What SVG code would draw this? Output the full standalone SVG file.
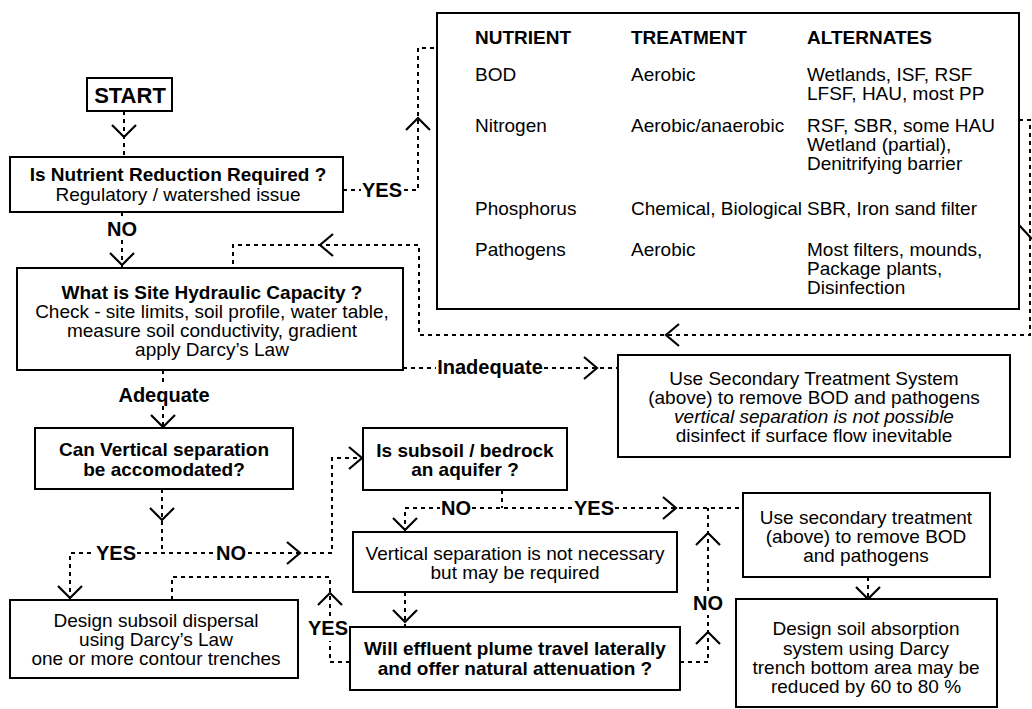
<svg xmlns="http://www.w3.org/2000/svg" width="1032" height="709" viewBox="0 0 1032 709">
<style>
.box{fill:#fff;stroke:#000;stroke-width:2}
.t{font-family:"Liberation Sans",Arial,sans-serif;font-size:19px;fill:#000;text-anchor:middle;dominant-baseline:central}
.b{font-weight:bold}
.i{font-style:italic}
.l{text-anchor:start}
.lab{font-size:20px;font-weight:bold}
.d{fill:none;stroke:#000;stroke-width:2;stroke-dasharray:4 4}
.a{fill:none;stroke:#000;stroke-width:2.2}
</style>
<rect width="1032" height="709" fill="#fff"/>
<g id="connectors">
  <!-- START -> Nutrient -->
  <path class="d" d="M124,111 V157"/>
  <path class="a" d="M112,125 L124,137 L136,125"/>
  <!-- Nutrient NO -> Hydraulic -->
  <path class="d" d="M122,212 V220 M122,240 V268"/>
  <path class="a" d="M110,253 L122,265 L134,253"/>
  <text class="t lab" x="122" y="229">NO</text>
  <!-- Nutrient YES -> table -->
  <path class="d" d="M343,190 H361 M404,190 H418 V48 H437"/>
  <path class="a" d="M406,130 L418,118 L430,130"/>
  <text class="t lab" x="382" y="190">YES</text>
  <!-- table return -> hydraulic -->
  <path class="d" d="M1019,120 H1030 V335 H419 V245 H233 V268"/>
  <path class="a" d="M679,324 L666,335 L679,346"/>
  <path class="a" d="M333,234 L320,245 L333,256"/>
  <path class="a" d="M1019,225 L1032,239"/>
  <!-- Hydraulic Inadequate -> secondary -->
  <path class="d" d="M403,368 H436 M544,368 H618"/>
  <path class="a" d="M584,357 L597,368 L584,379"/>
  <text class="t lab" x="490" y="367">Inadequate</text>
  <!-- Hydraulic Adequate -> Can vertical -->
  <path class="d" d="M163,370 V385 M163,406 V428"/>
  <path class="a" d="M151,415 L163,427 L175,415"/>
  <text class="t lab" x="164" y="395">Adequate</text>
  <!-- Can vertical -> YES / NO -->
  <path class="d" d="M162,489 V553 M70,600 V553 H95 M137,553 H213 M248,553 H332 V458 H363"/>
  <path class="a" d="M150,508 L162,520 L174,508"/>
  <path class="a" d="M58,586 L70,598 L82,586"/>
  <path class="a" d="M287,542 L300,553 L287,564"/>
  <path class="a" d="M349,447 L362,458 L349,469"/>
  <text class="t lab" x="116" y="553">YES</text>
  <text class="t lab" x="231" y="553">NO</text>
  <!-- Will effluent YES -> design subsoil -->
  <path class="d" d="M350,662 H330 V641 M330,616 V577 H172 V600"/>
  <path class="a" d="M318,605 L330,593 L342,605"/>
  <text class="t lab" x="328" y="628">YES</text>
  <!-- Will effluent NO -> secondary treatment -->
  <path class="d" d="M680,662 H708 V615 M708,591 V508"/>
  <path class="a" d="M696,644 L708,632 L720,644"/>
  <path class="a" d="M696,545 L708,533 L720,545"/>
  <text class="t lab" x="708" y="603">NO</text>
  <!-- Aquifer -> NO / YES -->
  <path class="d" d="M502,490 V508 M405,532 V508 H440 M472,508 H573 M615,508 H743"/>
  <path class="a" d="M393,518 L405,530 L417,518"/>
  <path class="a" d="M663,497 L676,508 L663,519"/>
  <text class="t lab" x="456" y="508">NO</text>
  <text class="t lab" x="594" y="508">YES</text>
  <!-- Vertical sep -> Will effluent -->
  <path class="d" d="M405,592 V627"/>
  <path class="a" d="M393,610 L405,622 L417,610"/>
  <!-- secondary -> absorption -->
  <path class="d" d="M868,577 V599"/>
  <path class="a" d="M856,587 L868,599 L880,587"/>
</g>
<g id="start">
  <rect class="box" x="87" y="78" width="85" height="33"/>
  <text class="t b" x="130" y="95" style="font-size:22px">START</text>
</g>
<g id="nutrient">
  <rect class="box" x="10" y="157" width="333" height="55"/>
  <text class="t b" x="178" y="174">Is Nutrient Reduction Required ?</text>
  <text class="t" x="178" y="194">Regulatory / watershed issue</text>
</g>
<g id="table">
  <rect class="box" x="437" y="13" width="582" height="296"/>
  <text class="t l b" x="475" y="37">NUTRIENT</text>
  <text class="t l b" x="631" y="37">TREATMENT</text>
  <text class="t l b" x="807" y="37">ALTERNATES</text>
  <text class="t l" x="475" y="74">BOD</text>
  <text class="t l" x="631" y="74">Aerobic</text>
  <text class="t l" x="807" y="74">Wetlands, ISF, RSF</text>
  <text class="t l" x="807" y="93">LFSF, HAU, most PP</text>
  <text class="t l" x="475" y="125">Nitrogen</text>
  <text class="t l" x="631" y="125">Aerobic/anaerobic</text>
  <text class="t l" x="807" y="125">RSF, SBR, some HAU</text>
  <text class="t l" x="807" y="144">Wetland (partial),</text>
  <text class="t l" x="807" y="163">Denitrifying barrier</text>
  <text class="t l" x="475" y="208">Phosphorus</text>
  <text class="t l" x="631" y="208">Chemical, Biological</text>
  <text class="t l" x="807" y="208">SBR, Iron sand filter</text>
  <text class="t l" x="475" y="249">Pathogens</text>
  <text class="t l" x="631" y="249">Aerobic</text>
  <text class="t l" x="807" y="249">Most filters, mounds,</text>
  <text class="t l" x="807" y="268">Package plants,</text>
  <text class="t l" x="807" y="287">Disinfection</text>
</g>
<g id="hydraulic">
  <rect class="box" x="17" y="268" width="386" height="102"/>
  <text class="t b" x="212" y="292">What is Site Hydraulic Capacity ?</text>
  <text class="t" x="212" y="311">Check - site limits, soil profile, water table,</text>
  <text class="t" x="212" y="330">measure soil conductivity, gradient</text>
  <text class="t" x="212" y="349">apply Darcy’s Law</text>
</g>
<g id="secondary-system">
  <rect class="box" x="618" y="355" width="392" height="102"/>
  <text class="t" x="814" y="378">Use Secondary Treatment System</text>
  <text class="t" x="814" y="397">(above) to remove BOD and pathogens</text>
  <text class="t i" x="814" y="416">vertical separation is not possible</text>
  <text class="t" x="814" y="435">disinfect if surface flow inevitable</text>
</g>
<g id="can-vertical">
  <rect class="box" x="35" y="428" width="258" height="61"/>
  <text class="t b" x="164" y="449">Can Vertical separation</text>
  <text class="t b" x="164" y="469">be accomodated?</text>
</g>
<g id="aquifer">
  <rect class="box" x="363" y="428" width="204" height="62"/>
  <text class="t b" x="465" y="450">Is subsoil / bedrock</text>
  <text class="t b" x="465" y="469">an aquifer ?</text>
</g>
<g id="vertical-not-necessary">
  <rect class="box" x="353" y="532" width="324" height="60"/>
  <text class="t" x="515" y="553">Vertical separation is not necessary</text>
  <text class="t" x="515" y="572">but may be required</text>
</g>
<g id="secondary-treatment">
  <rect class="box" x="743" y="493" width="247" height="84"/>
  <text class="t" x="866" y="517">Use secondary treatment</text>
  <text class="t" x="866" y="536">(above) to remove BOD</text>
  <text class="t" x="866" y="555">and pathogens</text>
</g>
<g id="design-subsoil">
  <rect class="box" x="10" y="600" width="288" height="78"/>
  <text class="t" x="156" y="620">Design subsoil dispersal</text>
  <text class="t" x="156" y="639">using Darcy’s Law</text>
  <text class="t" x="156" y="658">one or more contour trenches</text>
</g>
<g id="will-effluent">
  <rect class="box" x="350" y="627" width="330" height="63"/>
  <text class="t b" x="515" y="648">Will effluent plume travel laterally</text>
  <text class="t b" x="515" y="668">and offer natural attenuation ?</text>
</g>
<g id="absorption">
  <rect class="box" x="736" y="599" width="261" height="108"/>
  <text class="t" x="866" y="628">Design soil absorption</text>
  <text class="t" x="866" y="648">system using Darcy</text>
  <text class="t" x="866" y="667">trench bottom area may be</text>
  <text class="t" x="866" y="686">reduced by 60 to 80 %</text>
</g>
</svg>
